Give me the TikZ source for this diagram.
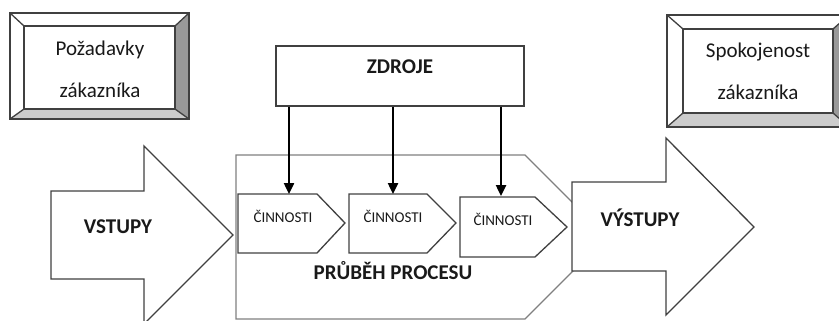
\documentclass[tikz,border=0pt]{standalone}
\usepackage{fontspec}
\setmainfont{Carlito}
\usepackage{tikz}
\usetikzlibrary{arrows.meta}

\begin{document}
\begin{tikzpicture}[x=1pt,y=-1pt,
        every node/.style={inner sep=0pt,text=black!90},
        big/.style={font=\fontsize{21}{25}\selectfont},
        bigbold/.style={font=\fontsize{21}{25}\selectfont\bfseries},
        small/.style={font=\fontsize{15}{18}\selectfont},
        line/.style={draw=black!75,line width=1.3pt},
        faint/.style={draw=black!50,line width=1.2pt},
        res/.style={draw=black,line width=2.4pt,-{Triangle[length=11pt,width=10pt]}}]
        \clip (0,0) rectangle (839,321);
        \useasboundingbox (0,0) rectangle (839,321);

        \fill[white] (10,13) rectangle (189,119);
        \fill[black!40] (189,13) -- (189,119) -- (175,109) -- (175,26) -- cycle;
        \fill[black!20] (10,119) -- (189,119) -- (175,109) -- (24,109) -- cycle;
        \draw[line] (10,13) rectangle (189,119);
        \draw[line] (24,26) rectangle (175,109);
        \draw[line] (10,13) -- (24,26) (189,13) -- (175,26) (10,119) -- (24,109) (189,119) -- (175,109);
        \node[big,align=center] (pozadavky) at (100,69) {Požadavky\\[17pt]zákazníka};

        \fill[white] (667,15) rectangle (849,127);
        \fill[black!40] (849,15) -- (849,127) -- (833,113) -- (833,29) -- cycle;
        \fill[black!20] (667,127) -- (849,127) -- (833,113) -- (683,113) -- cycle;
        \draw[line] (667,15) rectangle (849,127);
        \draw[line] (683,29) rectangle (833,113);
        \draw[line] (667,15) -- (683,29) (849,15) -- (833,29) (667,127) -- (683,113) (849,127) -- (833,113);
        \node[big,align=center] (spokojenost) at (758,71) {Spokojenost\\[17pt]zákazníka};

        \draw[faint] (236,155) -- (525,155) -- (607,237) -- (525,319) -- (236,319) -- cycle;
        \node[bigbold] (prubeh) at (393,271) {PRŮBĚH PROCESU};

        \draw[line,fill=white] (51,191) -- (144,191) -- (144,146) -- (233,235) -- (144,324) -- (144,279) -- (51,279) -- cycle;
        \node[bigbold] (vstupy) at (118,227) {VSTUPY};

        \draw[line,fill=white] (572,182) -- (666,182) -- (666,138) -- (754,227) -- (666,315) -- (666,271) -- (572,271) -- cycle;
        \node[bigbold] (vystupy) at (640,218) {VÝSTUPY};

        \node[line,minimum width=248pt,minimum height=60pt] (zdroje) at (400,76) {};
        \node[bigbold] (zdrojetext) at (400,67) {ZDROJE};

        \draw[line] (238,194) -- (317,194) -- (345,223) -- (317,253) -- (238,253) -- cycle;
        \node[small] (cin1) at (283,216) {ČINNOSTI};
        \draw[line] (349,194) -- (427,194) -- (456,223) -- (427,253) -- (349,253) -- cycle;
        \node[small] (cin2) at (393,216) {ČINNOSTI};
        \draw[line] (460,197) -- (535,197) -- (567,227) -- (535,257) -- (460,257) -- cycle;
        \node[small] (cin3) at (503,219) {ČINNOSTI};

        \coordinate (in1) at (289,194);
        \coordinate (in2) at (393,194);
        \coordinate (in3) at (501,196);

        \draw[res] (zdroje.south -| in1) -- (in1);
        \draw[res] (zdroje.south -| in2) -- (in2);
        \draw[res] (zdroje.south -| in3) -- (in3);
    \end{tikzpicture}
\end{document}
